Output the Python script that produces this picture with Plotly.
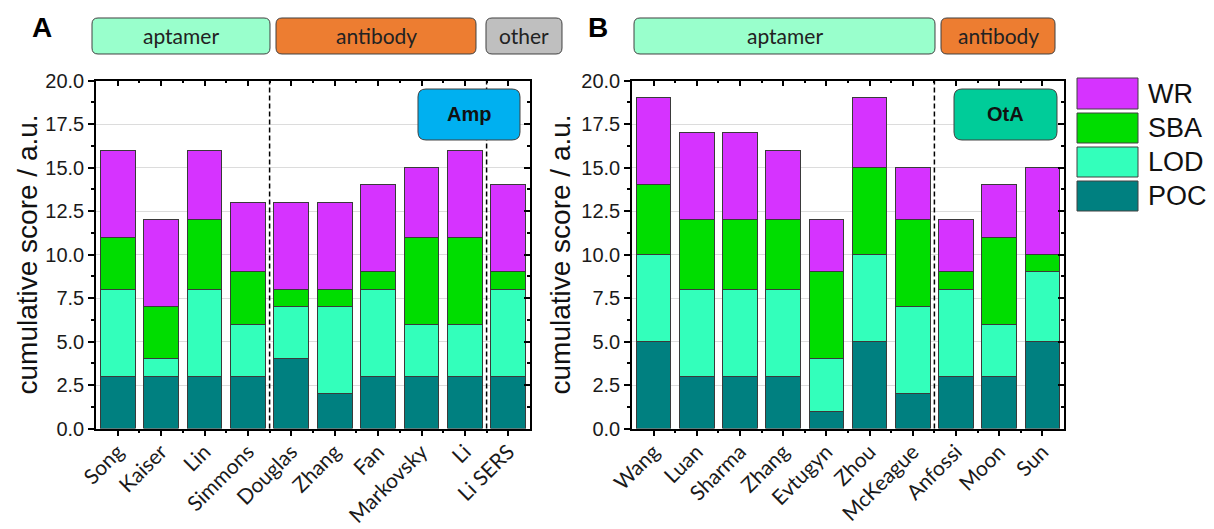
import plotly.graph_objects as go

W, H = 1214, 529

# ---- data -------------------------------------------------------------
studies_a = ["Song", "Kaiser", "Lin", "Simmons", "Douglas", "Zhang", "Fan",
             "Markovsky", "Li", "Li SERS"]
poc_a = [3, 3, 3, 3, 4, 2, 3, 3, 3, 3]
lod_a = [5, 1, 5, 3, 3, 5, 5, 3, 3, 5]
sba_a = [3, 3, 4, 3, 1, 1, 1, 5, 5, 1]
wr_a = [5, 5, 4, 4, 5, 5, 5, 4, 5, 5]

studies_b = ["Wang", "Luan", "Sharma", "Zhang", "Evtugyn", "Zhou", "McKeague",
             "Anfossi", "Moon", "Sun"]
poc_b = [5, 3, 3, 3, 1, 5, 2, 3, 3, 5]
lod_b = [5, 5, 5, 5, 3, 5, 5, 5, 3, 4]
sba_b = [4, 4, 4, 4, 5, 5, 5, 1, 5, 1]
wr_b = [5, 5, 5, 4, 3, 4, 3, 3, 3, 5]

criteria = ["POC", "LOD", "SBA", "WR"]
colors = {"POC": "#008080", "LOD": "#33FFBB", "SBA": "#00DD00", "WR": "#D633FF"}

# group separators (between category indices)
sep_a = [3.5, 8.5]
sep_b = [6.5]

y_ticks = [0, 2.5, 5, 7.5, 10, 12.5, 15, 17.5, 20]

# ---- helpers (pixel -> paper) -------------------------------------------
def px(x):
    return x / W


def py(y):
    return 1 - y / H


def rrect(x0, y0, x1, y1, r=6):
    pts = [
        ("M", [(x0 + r, y0)]), ("L", [(x1 - r, y0)]), ("Q", [(x1, y0), (x1, y0 + r)]),
        ("L", [(x1, y1 - r)]), ("Q", [(x1, y1), (x1 - r, y1)]),
        ("L", [(x0 + r, y1)]), ("Q", [(x0, y1), (x0, y1 - r)]),
        ("L", [(x0, y0 + r)]), ("Q", [(x0, y0), (x0 + r, y0)]),
    ]
    s = ""
    for cmd, p in pts:
        s += cmd + " " + " ".join(f"{px(a):.6f},{py(b):.6f}" for a, b in p) + " "
    return s + "Z"


fig = go.Figure()

panels = [
    ("x", "y", studies_a, {"POC": poc_a, "LOD": lod_a, "SBA": sba_a, "WR": wr_a}),
    ("x2", "y2", studies_b, {"POC": poc_b, "LOD": lod_b, "SBA": sba_b, "WR": wr_b}),
]
for xa, ya, names, vals in panels:
    pos = list(range(len(names)))
    for c in criteria:
        fig.add_trace(go.Bar(
            x=pos, y=vals[c], name=c, xaxis=xa, yaxis=ya, width=0.8,
            marker=dict(color=colors[c], line=dict(color="#3a3a3a", width=1)),
            showlegend=False,
        ))

TICKFONT = dict(family="Liberation Sans", size=20, color="#1a1a1a")
XFONT = dict(family="Lato", size=21, color="#1a1a1a")

dom_y = [py(428.5), py(80.5)]
dom_xa = [px(96), px(530)]
dom_xb = [px(632), px(1064)]


def xaxis(dom, names, anchor):
    n = len(names)
    return dict(
        domain=dom, anchor=anchor, range=[-0.5, n - 0.5], automargin=False,
        tickmode="array", tickvals=list(range(n)), ticktext=names,
        tickangle=-45, tickfont=XFONT, ticklabelstandoff=-5,
        ticks="outside", ticklen=6, tickwidth=1.5, tickcolor="black",
        minor=dict(tickmode="array", tickvals=[i + 0.5 for i in range(n - 1)],
                   ticks="outside", ticklen=3, tickwidth=1.5, tickcolor="black"),
        showline=True, linecolor="black", linewidth=1.5,
        showgrid=False, zeroline=False, fixedrange=True,
    )


def xaxis_top(dom, n, over, anchor):
    return dict(
        domain=dom, anchor=anchor, overlaying=over, side="top", range=[-0.5, n - 0.5],
        automargin=False,
        tickmode="array", tickvals=list(range(n)), showticklabels=False,
        ticks="inside", ticklen=6, tickwidth=1.5, tickcolor="black",
        minor=dict(tickmode="array", tickvals=[i + 0.5 for i in range(n - 1)],
                   ticks="inside", ticklen=3, tickwidth=1.5, tickcolor="black"),
        showline=True, linecolor="black", linewidth=1.5,
        showgrid=False, zeroline=False,
    )


def yaxis(anchor):
    return dict(
        domain=dom_y, anchor=anchor, range=[0, 20], automargin=False,
        tickmode="array", tickvals=y_ticks, tickformat=".1f", tickfont=TICKFONT,
        ticks="outside", ticklen=6, tickwidth=1.5, tickcolor="black",
        minor=dict(dtick=1.25, tick0=0, ticks="outside", ticklen=3, tickwidth=1.5,
                   tickcolor="black", showgrid=False),
        showline=True, linecolor="black", linewidth=1.5,
        showgrid=True, gridcolor="#dcdcdc", gridwidth=1, zeroline=False,
    )


def yaxis_right(over, anchor):
    return dict(
        domain=dom_y, anchor=anchor, overlaying=over, side="right", range=[0, 20],
        automargin=False,
        tickmode="array", tickvals=y_ticks, showticklabels=False,
        ticks="inside", ticklen=6, tickwidth=1.5, tickcolor="black",
        minor=dict(dtick=1.25, tick0=0, ticks="inside", ticklen=3, tickwidth=1.5,
                   tickcolor="black", showgrid=False),
        showline=True, linecolor="black", linewidth=1.5,
        showgrid=False, zeroline=False,
    )


# invisible traces so the mirrored frame axes get drawn
fig.add_trace(go.Scatter(x=[0], y=[0], xaxis="x3", yaxis="y3", mode="markers",
                         marker=dict(opacity=0), hoverinfo="skip", showlegend=False))
fig.add_trace(go.Scatter(x=[0], y=[0], xaxis="x4", yaxis="y4", mode="markers",
                         marker=dict(opacity=0), hoverinfo="skip", showlegend=False))

fig.update_layout(
    width=W, height=H, margin=dict(l=0, r=0, t=0, b=0, pad=0, autoexpand=False),
    paper_bgcolor="white", plot_bgcolor="white",
    barmode="stack", showlegend=False,
    xaxis=xaxis(dom_xa, studies_a, "y"),
    yaxis=yaxis("x"),
    xaxis2=xaxis(dom_xb, studies_b, "y2"),
    yaxis2=yaxis("x2"),
    xaxis3=xaxis_top(dom_xa, len(studies_a), "x", "y3"),
    yaxis3=yaxis_right("y", "x3"),
    xaxis4=xaxis_top(dom_xb, len(studies_b), "x2", "y4"),
    yaxis4=yaxis_right("y2", "x4"),
)

shapes = []
annos = []

# dashed separators between reagent groups
for xs, xr, yr in [(sep_a, "x", "y domain"), (sep_b, "x2", "y2 domain")]:
    for s in xs:
        shapes.append(dict(type="line", xref=xr, yref=yr, x0=s, x1=s, y0=0, y1=1,
                           line=dict(color="black", width=1.5, dash="5px,3px")))

# reagent-type header boxes
headers = [
    ("aptamer", 92, 270, "#99FFCC"),
    ("antibody", 276, 476, "#ED7D31"),
    ("other", 486, 562, "#BFBFBF"),
    ("aptamer", 634, 935, "#99FFCC"),
    ("antibody", 941, 1055, "#ED7D31"),
]
for label, x0, x1, fill in headers:
    shapes.append(dict(type="path", xref="paper", yref="paper",
                       path=rrect(x0, 18, x1, 54, 6), fillcolor=fill,
                       line=dict(color="#404040", width=1)))
    annos.append(dict(text=label, xref="paper", yref="paper",
                      x=px((x0 + x1) / 2), y=py(36), showarrow=False,
                      font=dict(family="Lato", size=21, color="#222222"),
                      xanchor="center", yanchor="middle"))

# analyte tags inside each panel
for label, x0, x1, fill in [("Amp", 418, 520, "#00B0F0"), ("OtA", 954, 1057, "#00CC99")]:
    shapes.append(dict(type="path", xref="paper", yref="paper",
                       path=rrect(x0, 89, x1, 140, 8), fillcolor=fill,
                       line=dict(color="#404040", width=1)))
    annos.append(dict(text=f"<b>{label}</b>", xref="paper", yref="paper",
                      x=px((x0 + x1) / 2), y=py(114.5), showarrow=False,
                      font=dict(family="Liberation Sans", size=20, color="#111111"),
                      xanchor="center", yanchor="middle"))

# panel letters
for letter, cx in [("A", 42), ("B", 598)]:
    annos.append(dict(text=f"<b>{letter}</b>", xref="paper", yref="paper",
                      x=px(cx), y=py(28), showarrow=False,
                      font=dict(family="Liberation Sans", size=28, color="black"),
                      xanchor="center", yanchor="middle"))

# y-axis titles
for cx in [27, 560]:
    annos.append(dict(text="cumulative score / a.u.", xref="paper", yref="paper",
                      x=px(cx), y=py(254.5), showarrow=False, textangle=-90,
                      font=dict(family="Liberation Sans", size=28, color="#111111"),
                      xanchor="center", yanchor="middle"))

# legend (top entry first)
leg_rows = [("WR", 78, 109), ("SBA", 113, 143), ("LOD", 147, 177), ("POC", 181, 211)]
for name, y0, y1 in leg_rows:
    shapes.append(dict(type="rect", xref="paper", yref="paper",
                       x0=px(1077), x1=px(1138), y0=py(y1), y1=py(y0),
                       fillcolor=colors[name], line=dict(color="#404040", width=1)))
    annos.append(dict(text=name, xref="paper", yref="paper",
                      x=px(1146), y=py((y0 + y1) / 2), showarrow=False,
                      font=dict(family="Liberation Sans", size=27, color="#111111"),
                      xanchor="left", yanchor="middle"))

fig.update_layout(shapes=shapes, annotations=annos)

fig.write_html(
    "out.html",
    post_script="document.body.style.margin='0';document.body.style.overflow='hidden';",
)
